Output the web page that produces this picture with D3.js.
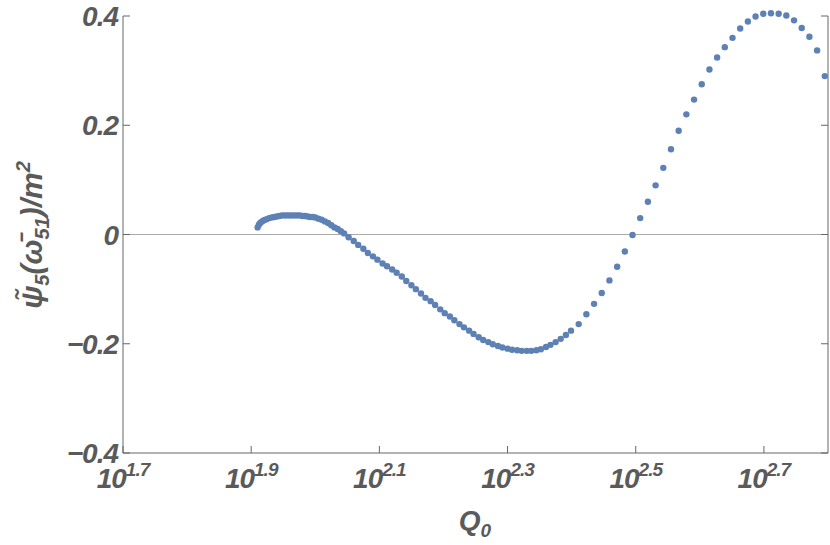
<!DOCTYPE html><html><head><meta charset="utf-8"><script src="https://cdn.jsdelivr.net/npm/d3@7"></script>
<style>body{margin:0;background:#fff}text{font-family:"Liberation Sans",Arial,sans-serif;font-weight:bold;font-style:italic;fill:#5a5a5a}</style></head><body><svg id="c" width="830" height="545"></svg><script>
const logQ=[1.910,1.912,1.914,1.917,1.920,1.924,1.928,1.932,1.936,1.940,1.944,1.948,1.952,1.956,1.960,1.964,1.968,1.972,1.976,1.980,1.984,1.988,1.992,1.996,2.000,2.005,2.010,2.015,2.020,2.025,2.030,2.035,2.040,2.045,
2.052,2.060,2.067,2.075,2.082,2.090,2.097,2.105,2.112,2.120,2.127,2.135,2.142,2.150,2.157,2.165,2.172,2.180,2.187,2.195,2.202,2.210,2.217,2.225,2.232,2.240,2.247,2.255,2.262,2.270,2.277,2.285,2.292,2.300,2.307,2.315,2.322,2.330,2.337,2.345,2.352,2.360,2.367,2.375,2.383,2.391,2.399,
2.411,2.423,2.435,2.447,2.459,2.471,2.483,2.495,2.507,2.519,2.531,2.543,2.555,2.567,2.579,2.591,2.603,2.615,2.627,2.639,2.651,2.663,2.675,2.687,2.699,2.711,2.723,2.735,2.747,2.759,2.771,2.783,2.795];
const psi=[.013,.018,.021,.024,.026,.028,.030,.031,.032,.033,.034,.035,.035,.035,.035,.035,.035,.035,.035,.034,.034,.033,.032,.032,.031,.029,.027,.024,.021,.017,.013,.010,.006,.002,
-.005,-.012,-.019,-.026,-.034,-.040,-.046,-.053,-.058,-.064,-.070,-.077,-.085,-.093,-.100,-.108,-.116,-.122,-.129,-.137,-.144,-.150,-.157,-.164,-.170,-.176,-.182,-.188,-.193,-.197,-.201,-.204,-.207,-.209,-.211,-.212,-.213,-.213,-.213,-.212,-.210,-.206,-.202,-.197,-.191,-.184,-.176,
-.164,-.146,-.127,-.107,-.084,-.059,-.031,-.001,.030,.060,.090,.122,.156,.190,.220,.247,.275,.302,.324,.343,.360,.377,.390,.399,.404,.405,.404,.401,.392,.378,.362,.337,.290];
const xTicks=[1.7,1.9,2.1,2.3,2.5,2.7];
const yTicks=[-0.4,-0.2,0,0.2,0.4];
const svg=d3.select("#c");
const x=d3.scaleLinear().domain([1.7,2.8]).range([123,828]);
const y=d3.scaleLinear().domain([-0.4,0.4]).range([453,16]);
const ax="#666";
svg.append("line").attr("x1",x(1.7)).attr("x2",x(2.8)).attr("y1",y(0)).attr("y2",y(0)).attr("stroke","#aaa").attr("stroke-width",1);
const fr=svg.append("g").attr("stroke",ax).attr("stroke-width",1).attr("fill","none");
fr.append("line").attr("x1",123).attr("x2",123).attr("y1",y(0.4)).attr("y2",y(-0.4));
fr.append("line").attr("x1",828).attr("x2",828).attr("y1",y(0.4)).attr("y2",y(-0.4));
fr.append("line").attr("x1",123).attr("x2",828).attr("y1",y(-0.4)).attr("y2",y(-0.4));
xTicks.forEach(t=>{fr.append("line").attr("x1",x(t)).attr("x2",x(t)).attr("y1",453).attr("y2",446);
 const tx=svg.append("text").attr("x",x(t)).attr("y",488).attr("text-anchor","middle").attr("font-size",28).attr("letter-spacing",-1);
 tx.append("tspan").text("10");tx.append("tspan").attr("font-size",19).attr("dy",-12).text(t.toFixed(1));});
yTicks.forEach(t=>{fr.append("line").attr("x1",123).attr("x2",130).attr("y1",y(t)).attr("y2",y(t));
 fr.append("line").attr("x1",828).attr("x2",821).attr("y1",y(t)).attr("y2",y(t));
 svg.append("text").attr("x",118).attr("y",y(t)+10).attr("text-anchor","end").attr("font-size",28).attr("letter-spacing",-1).text(t===0?"0":(t<0?"\u2212":"")+Math.abs(t).toFixed(1));});
svg.append("g").selectAll("circle").data(logQ).join("circle").attr("cx",d=>x(d)).attr("cy",(d,i)=>y(psi[i])).attr("r",3.2).attr("fill","#5e81b5");
const xl=svg.append("text").attr("x",475).attr("y",530).attr("text-anchor","middle").attr("font-size",28);
xl.append("tspan").text("Q");xl.append("tspan").attr("font-size",19).attr("dy",7).text("0");
const yl=svg.append("text").attr("transform","translate(42,235) rotate(-90)").attr("text-anchor","middle").attr("font-size",30);
yl.append("tspan").text("\u03C8\u0303");yl.append("tspan").attr("font-size",20).attr("dy",7).text("5");
yl.append("tspan").attr("dy",-7).text("(\u03C9\u0304");yl.append("tspan").attr("font-size",20).attr("dy",7).text("51");
yl.append("tspan").attr("dy",-7).text(")/m");yl.append("tspan").attr("font-size",20).attr("dy",-12).text("2");
</script></body></html>
